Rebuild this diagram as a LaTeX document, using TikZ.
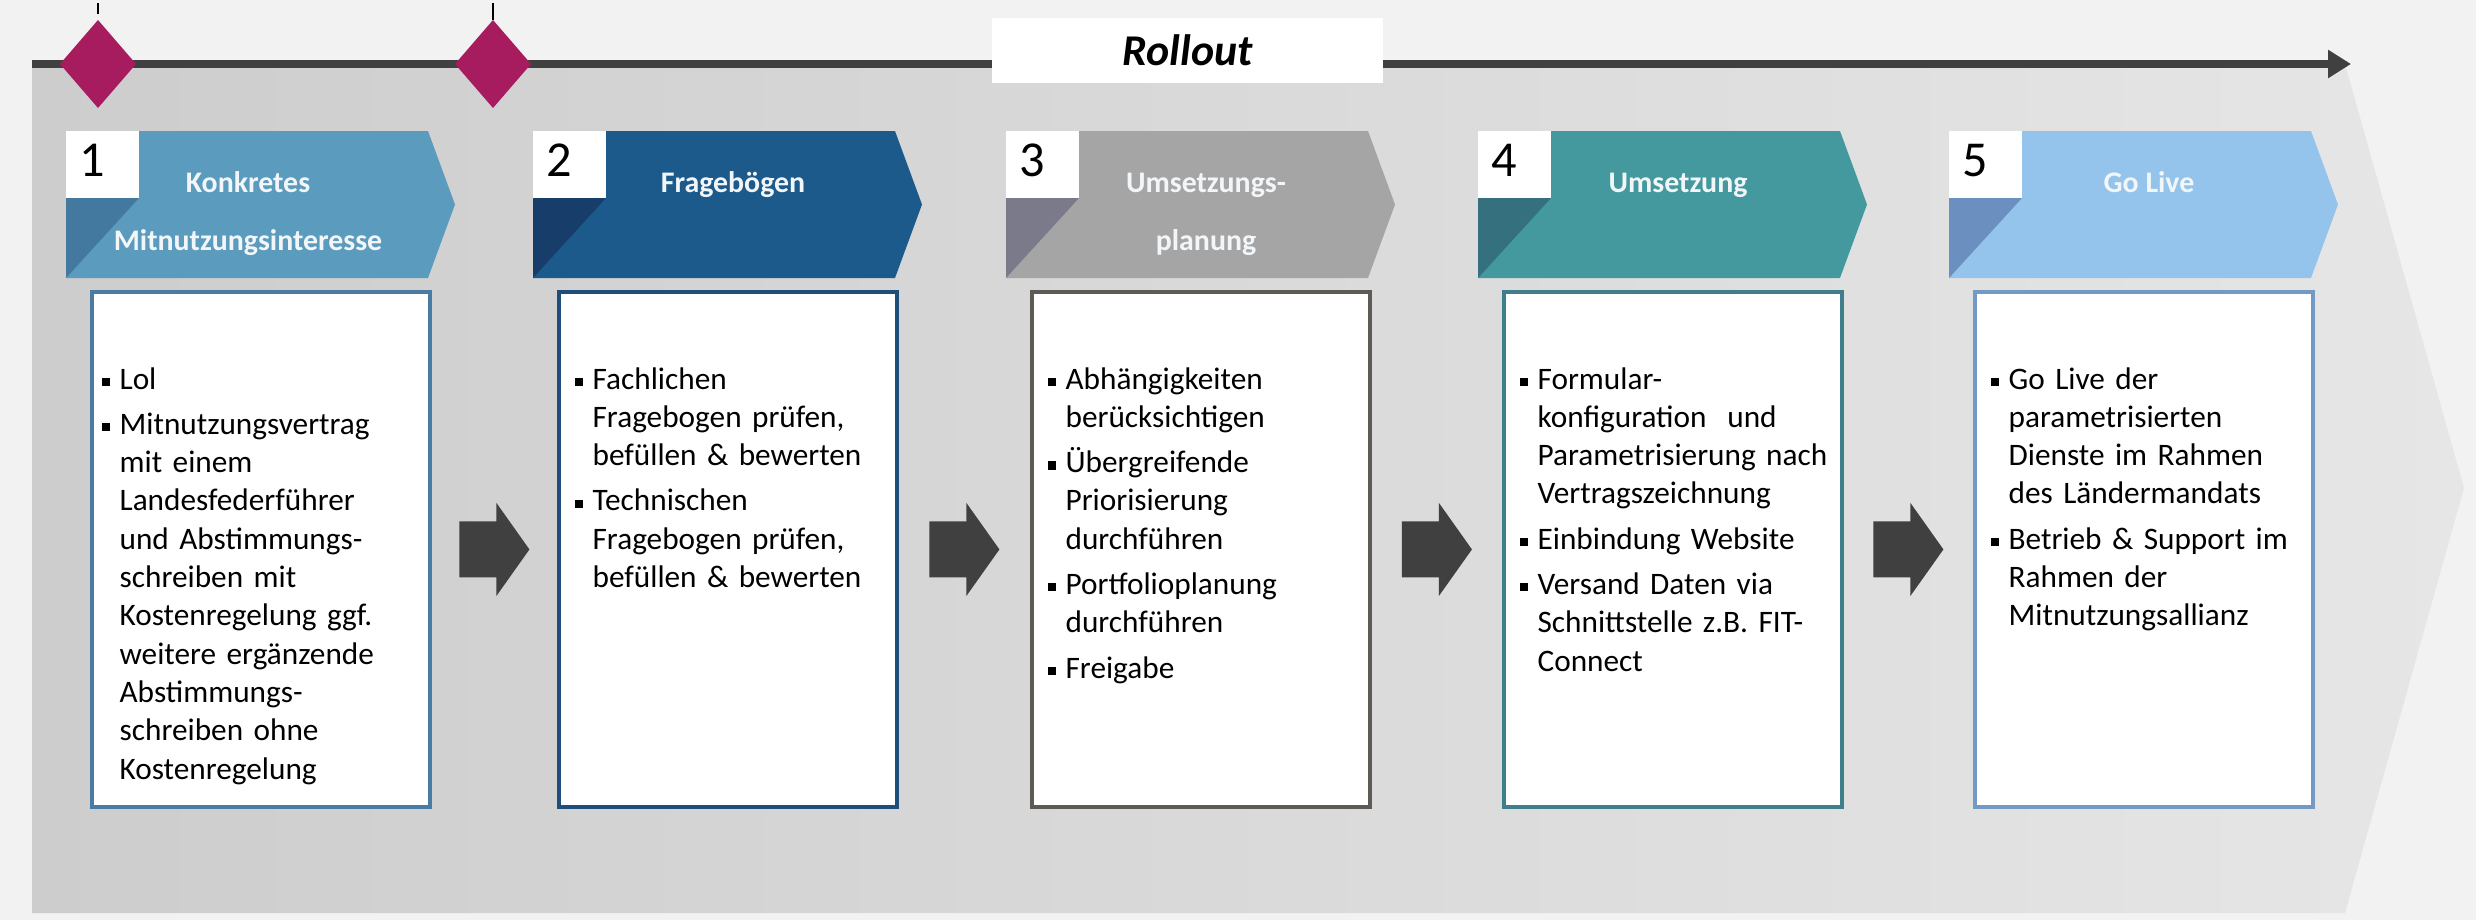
\documentclass[tikz,border=0pt]{standalone}
\usepackage{fontspec}
\setmainfont{Carlito}
\usetikzlibrary{positioning}
\usetikzlibrary{calc}
\usetikzlibrary{arrows.meta}

\definecolor{bggray}{HTML}{F2F2F2}
\definecolor{panelleft}{HTML}{CDCDCD}
\definecolor{panelright}{HTML}{E6E6E6}
\definecolor{linegray}{HTML}{404040}
\definecolor{arrowgray}{HTML}{404040}
\definecolor{milestonered}{HTML}{A61C5E}
\definecolor{headtext}{HTML}{F3F6F8}
\definecolor{head1}{HTML}{5B9BBD}
\definecolor{dark1}{HTML}{44799F}
\definecolor{frame1}{HTML}{4A7CA3}
\definecolor{head2}{HTML}{1C5A8C}
\definecolor{dark2}{HTML}{173E6A}
\definecolor{frame2}{HTML}{1F4E7A}
\definecolor{head3}{HTML}{A5A5A5}
\definecolor{dark3}{HTML}{7A7A8A}
\definecolor{frame3}{HTML}{5E5A55}
\definecolor{head4}{HTML}{43999E}
\definecolor{dark4}{HTML}{35707E}
\definecolor{frame4}{HTML}{3F7F8C}
\definecolor{head5}{HTML}{94C4EC}
\definecolor{dark5}{HTML}{6B8FBE}
\definecolor{frame5}{HTML}{7399C6}

\newcommand{\bul}{\par\leftskip=5.1pt\noindent\kern-5.1pt\makebox[5.1pt][l]{\raisebox{0.9pt}{\rule{2.3pt}{2.3pt}}}\rule{0pt}{7pt}}

\tikzset{
        bodybox/.style={line width=1.1pt,fill=white,minimum width=33.8mm,minimum height=51.5mm,anchor=north west,inner sep=0pt},
        bodytext/.style={anchor=north west,inner sep=0pt,text width=34mm,font=\fontsize{8.9}{10.9}\selectfont\setlength{\parskip}{2pt}},
        titletext/.style={anchor=north,inner sep=0pt,align=center,text=headtext,font=\fontsize{8.5}{16.5}\selectfont\bfseries},
        numtext/.style={anchor=base west,inner sep=0pt,font=\fontsize{14.3}{16}\selectfont},
        milestone/.style={fill=milestonered},
        blockarrow/.style={fill=arrowgray},
        }

\begin{document}
\begin{tikzpicture}[x=0.1mm,y=-0.1mm]

			% background.....................
			\fill [bggray] (0,0) rectangle (2476,920);
			\useasboundingbox (0,0) rectangle (2476,920);

			% big gray arrow.....................
			\shade [left color=panelleft, right color=panelright] (32,64) -- (2345,64) -- (2464,488) -- (2345,913) -- (32,913) -- cycle;

			% timeline......................
			\draw [line width=2.3pt, linegray, -{Triangle[length=2.3mm,width=2.7mm]}] (32,64) -- (2351,64);

			% milestones...................
			\draw [thin, dashed] (98,3) to (98,20);
			\draw [thin] (493,3) to (493,20);
			\fill [milestone] (98,20) -- (136,64) -- (98,108) -- (60,64) -- cycle;
			\fill [milestone] (493,20) -- (531,64) -- (493,108) -- (455,64) -- cycle;

			% rollout label....................
			\node [fill=white, minimum width=39.1mm, minimum height=6.5mm, inner sep=0pt, font=\fontsize{12.5}{14}\selectfont\bfseries\itshape] (rollout) at (1187.5,50.5) {Rollout};

			% stage 1 header...................
			\fill [head1] (66,131) -- (428,131) -- (455,204.5) -- (428,278) -- (66,278) -- cycle;
			\fill [white] (66,131) rectangle (139,198);
			\fill [dark1] (66,198) -- (139,198) -- (66,278) -- cycle;
			\node [numtext] (num1) at (79,177) {1};
			\node [titletext] (title1) at (248,171) {\rule{0pt}{6pt}Konkretes\\Mitnutzungsinteresse};

			% stage 2 header...................
			\fill [head2] (533,131) -- (895,131) -- (922,204.5) -- (895,278) -- (533,278) -- cycle;
			\fill [white] (533,131) rectangle (606,198);
			\fill [dark2] (533,198) -- (606,198) -- (533,278) -- cycle;
			\node [numtext] (num2) at (546,177) {2};
			\node [titletext] (title2) at (733,171) {\rule{0pt}{6pt}Fragebögen};

			% stage 3 header...................
			\fill [head3] (1006,131) -- (1368,131) -- (1395,204.5) -- (1368,278) -- (1006,278) -- cycle;
			\fill [white] (1006,131) rectangle (1079,198);
			\fill [dark3] (1006,198) -- (1079,198) -- (1006,278) -- cycle;
			\node [numtext] (num3) at (1019,177) {3};
			\node [titletext] (title3) at (1206,171) {\rule{0pt}{6pt}Umsetzungs-\\planung};

			% stage 4 header...................
			\fill [head4] (1478,131) -- (1840,131) -- (1867,204.5) -- (1840,278) -- (1478,278) -- cycle;
			\fill [white] (1478,131) rectangle (1551,198);
			\fill [dark4] (1478,198) -- (1551,198) -- (1478,278) -- cycle;
			\node [numtext] (num4) at (1491,177) {4};
			\node [titletext] (title4) at (1678,171) {\rule{0pt}{6pt}Umsetzung};

			% stage 5 header...................
			\fill [head5] (1949,131) -- (2311,131) -- (2338,204.5) -- (2311,278) -- (1949,278) -- cycle;
			\fill [white] (1949,131) rectangle (2022,198);
			\fill [dark5] (1949,198) -- (2022,198) -- (1949,278) -- cycle;
			\node [numtext] (num5) at (1962,177) {5};
			\node [titletext] (title5) at (2149,171) {\rule{0pt}{6pt}Go Live};

			% body boxes..............................
			\node [bodybox, draw=frame1] (body1) at (90,290) {};
			\node [bodybox, draw=frame2] (body2) at (557,290) {};
			\node [bodybox, draw=frame3] (body3) at (1030,290) {};
			\node [bodybox, draw=frame4] (body4) at (1502,290) {};
			\node [bodybox, draw=frame5] (body5) at (1973,290) {};

			% body texts..............................
			\node [bodytext] (text1) at (101,343) {\bul Lol
				\bul Mitnutzungsvertrag\newline mit einem\newline Landesfederführer\newline und Abstimmungs-\newline schreiben mit\newline Kostenregelung ggf.\newline weitere ergänzende\newline Abstimmungs-\newline schreiben ohne\newline Kostenregelung\par};
			\node [bodytext] (text2) at (574,343) {\bul Fachlichen\newline Fragebogen prüfen,\newline befüllen \& bewerten
				\bul Technischen\newline Fragebogen prüfen,\newline befüllen \& bewerten\par};
			\node [bodytext] (text3) at (1047,343) {\bul Abhängigkeiten\newline berücksichtigen
				\bul Übergreifende\newline Priorisierung\newline durchführen
				\bul Portfolioplanung\newline durchführen
				\bul Freigabe\par};
			\node [bodytext] (text4) at (1519,343) {\bul Formular-\newline konfiguration\ \ und\newline Parametrisierung nach\newline Vertragszeichnung
				\bul Einbindung Website
				\bul Versand Daten via\newline Schnittstelle z.B. FIT-\newline Connect\par};
			\node [bodytext] (text5) at (1990,343) {\bul Go Live der\newline parametrisierten\newline Dienste im Rahmen\newline des Ländermandats
				\bul Betrieb \& Support im\newline Rahmen der\newline Mitnutzungsallianz\par};

			% arrows between boxes.........................
			\coordinate (m12) at ($(body1.east)!0.5!(body2.west)$);
			\coordinate (m23) at ($(body2.east)!0.5!(body3.west)$);
			\coordinate (m34) at ($(body3.east)!0.5!(body4.west)$);
			\coordinate (m45) at ($(body4.east)!0.5!(body5.west)$);
			\fill [blockarrow] ($(m12)+(-35,-28)$) -- ++(37,0) -- ++(0,-18.5) -- ++(33,46.5) -- ++(-33,46.5) -- ++(0,-18.5) -- ++(-37,0) -- cycle;
			\fill [blockarrow] ($(m23)+(-35,-28)$) -- ++(37,0) -- ++(0,-18.5) -- ++(33,46.5) -- ++(-33,46.5) -- ++(0,-18.5) -- ++(-37,0) -- cycle;
			\fill [blockarrow] ($(m34)+(-35,-28)$) -- ++(37,0) -- ++(0,-18.5) -- ++(33,46.5) -- ++(-33,46.5) -- ++(0,-18.5) -- ++(-37,0) -- cycle;
			\fill [blockarrow] ($(m45)+(-35,-28)$) -- ++(37,0) -- ++(0,-18.5) -- ++(33,46.5) -- ++(-33,46.5) -- ++(0,-18.5) -- ++(-37,0) -- cycle;
		\end{tikzpicture}
\end{document}
